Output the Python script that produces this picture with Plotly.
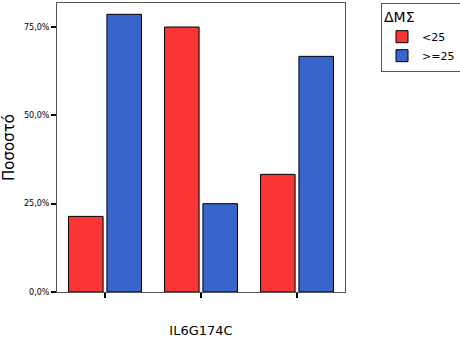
import plotly.graph_objects as go

categories = ["GG", "GC", "CC"]
series_names = ["<25", ">=25"]
under25 = [0.214, 0.75, 0.333]
over25 = [0.786, 0.25, 0.667]
y_ticks = [0, 0.25, 0.5, 0.75]

colors = ["#F93535", "#3765CB"]

fig = go.Figure()
for name, vals, c in zip(series_names, [under25, over25], colors):
    fig.add_trace(go.Bar(
        x=categories, y=vals, name=name,
        marker=dict(color=c, line=dict(color="black", width=1)),
    ))

fig.update_layout(
    width=460, height=340,
    margin=dict(l=57, r=115, t=3, b=48, autoexpand=False),
    paper_bgcolor="white", plot_bgcolor="white",
    barmode="group", bargap=0.2, bargroupgap=0.1,
    separators=",.",
    font=dict(family="DejaVu Sans", color="black"),
    showlegend=True,
    legend=dict(
        x=1.125, y=1, xanchor="left", yanchor="top",
        title=dict(text="ΔΜΣ", font=dict(size=14)),
        font=dict(size=11),
        bordercolor="#555555", borderwidth=1,
        itemwidth=30, tracegroupgap=0,
    ),
    xaxis=dict(
        range=[-0.5, 2.5], showticklabels=False,
        ticks="outside", ticklen=5, tickwidth=2, tickcolor="black",
        showline=True, linecolor="#555555", linewidth=1, mirror=True,
        title=dict(text="IL6G174C", font=dict(size=13), standoff=28),
        showgrid=False, zeroline=False,
    ),
    yaxis=dict(
        range=[0, 0.818], tickvals=y_ticks, tickformat=".1%",
        ticks="outside", ticklen=5, tickwidth=2, tickcolor="black",
        tickfont=dict(size=8),
        showline=True, linecolor="#555555", linewidth=1, mirror=True,
        title=dict(text="Ποσοστό", font=dict(size=15), standoff=12),
        showgrid=False, zeroline=False,
    ),
)

fig.write_html("out.html")
